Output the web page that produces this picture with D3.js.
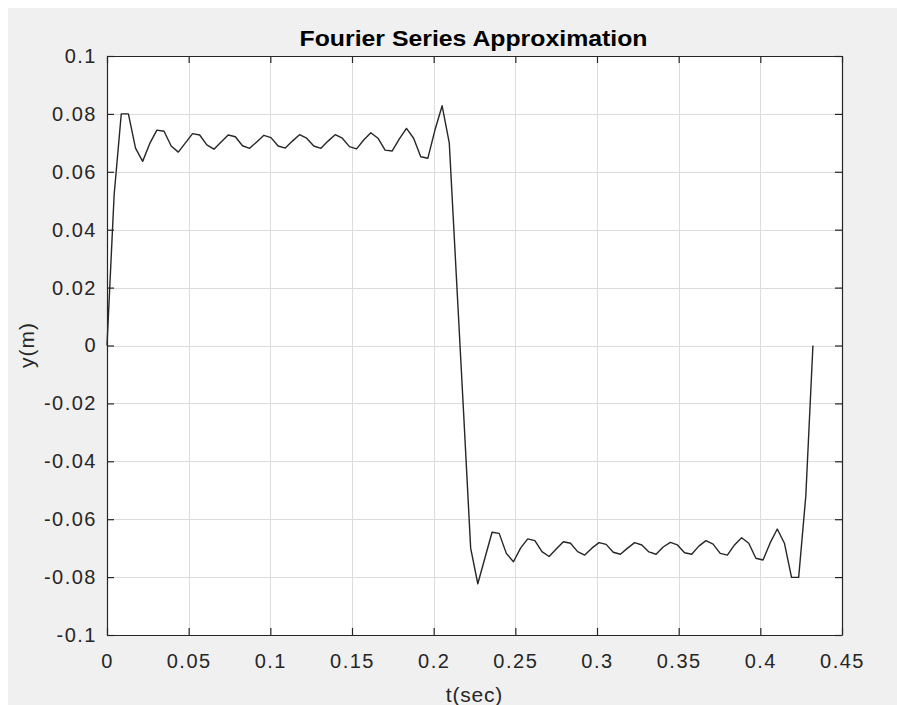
<!DOCTYPE html>
<html>
<head>
<meta charset="utf-8">
<script src="https://cdn.jsdelivr.net/npm/d3@7"></script>
<style>
  html, body { margin: 0; padding: 0; background: #ffffff; }
  svg { display: block; }
  text { font-family: "Liberation Sans", Arial, Helvetica, sans-serif; fill: #262626; }
</style>
</head>
<body>
<svg id="chart" width="897" height="705"></svg>
<script>
// ---- data ----
const chartTitle = "Fourier Series Approximation";
const xLabel = "t(sec)";
const yLabel = "y(m)";
const xTicks = [0, 0.05, 0.1, 0.15, 0.2, 0.25, 0.3, 0.35, 0.4, 0.45];
const xTickLabels = ["0", "0.05", "0.1", "0.15", "0.2", "0.25", "0.3", "0.35", "0.4", "0.45"];
const yTicks = [-0.1, -0.08, -0.06, -0.04, -0.02, 0, 0.02, 0.04, 0.06, 0.08, 0.1];
const yTickLabels = ["-0.1", "-0.08", "-0.06", "-0.04", "-0.02", "0", "0.02", "0.04", "0.06", "0.08", "0.1"];
const sampleStep = 0.0043657;   // time between samples (s)
const yValues = [
  0, 0.0520, 0.0800, 0.0800, 0.0682, 0.0636, 0.0698, 0.0744, 0.0740, 0.0689,
  0.0668, 0.0700, 0.0732, 0.0727, 0.0693, 0.0678, 0.0703, 0.0727, 0.0721, 0.0690,
  0.0681, 0.0703, 0.0726, 0.0718, 0.0689, 0.0682, 0.0706, 0.0728, 0.0716, 0.0689,
  0.0681, 0.0706, 0.0728, 0.0716, 0.0687, 0.0679, 0.0710, 0.0735, 0.0716, 0.0675,
  0.0672, 0.0714, 0.0750, 0.0716, 0.0652, 0.0647, 0.0745, 0.0828, 0.0700, 0.0236,
  -0.0228, -0.0700, -0.0823, -0.0734, -0.0645, -0.0649, -0.0718, -0.0747, -0.0700, -0.0668,
  -0.0674, -0.0712, -0.0729, -0.0703, -0.0678, -0.0683, -0.0712, -0.0724, -0.0700, -0.0681,
  -0.0687, -0.0714, -0.0721, -0.0700, -0.0681, -0.0689, -0.0713, -0.0721, -0.0696, -0.0680,
  -0.0689, -0.0716, -0.0721, -0.0693, -0.0674, -0.0686, -0.0718, -0.0724, -0.0689, -0.0664,
  -0.0683, -0.0735, -0.0741, -0.0682, -0.0634, -0.0683, -0.0801, -0.0801, -0.0520, 0
];
const timeValues = yValues.map((_, i) => i * sampleStep);

// ---- layout ----
const W = 897, H = 705;
const plot = { left: 107, right: 842, top: 56, bottom: 635 };
const svg = d3.select("#chart");

svg.append("rect").attr("x", 8).attr("y", 8).attr("width", W - 8).attr("height", H - 8).attr("fill", "#f0f0f0");
svg.append("rect").attr("x", plot.left).attr("y", plot.top)
  .attr("width", plot.right - plot.left).attr("height", plot.bottom - plot.top).attr("fill", "#ffffff");

const x = d3.scaleLinear().domain([0, 0.45]).range([plot.left, plot.right]);
const y = d3.scaleLinear().domain([-0.1, 0.1]).range([plot.bottom, plot.top]);

// grid
const grid = svg.append("g").attr("stroke", "#dcdcdc").attr("stroke-width", 1);
grid.selectAll("line.gx").data(xTicks.slice(1, -1)).join("line")
  .attr("x1", d => Math.round(x(d)) + 0.5).attr("x2", d => Math.round(x(d)) + 0.5)
  .attr("y1", plot.top).attr("y2", plot.bottom);
grid.selectAll("line.gy").data(yTicks.slice(1, -1)).join("line")
  .attr("y1", d => Math.round(y(d)) + 0.5).attr("y2", d => Math.round(y(d)) + 0.5)
  .attr("x1", plot.left).attr("x2", plot.right);

// data line
const line = d3.line().x((d, i) => x(timeValues[i])).y(d => y(d));
svg.append("path").datum(yValues)
  .attr("d", line).attr("fill", "none").attr("stroke", "#262626")
  .attr("stroke-width", 1.4).attr("stroke-linejoin", "round");

// axes (MATLAB-style box with inward ticks)
const tickLen = 7;
const fmtX = d => xTickLabels[xTicks.indexOf(d)];
const fmtY = d => yTickLabels[yTicks.indexOf(d)];

function styleAxis(g) {
  g.selectAll("path.domain").attr("stroke", "#262626").attr("stroke-width", 1.2);
  g.selectAll(".tick line").attr("stroke", "#262626").attr("stroke-width", 1.2);
  g.selectAll(".tick text").attr("fill", "#262626")
    .style("font-size", "20px").style("letter-spacing", "1.5px");
}

const xAxisB = svg.append("g").attr("transform", `translate(0,${plot.bottom})`)
  .call(d3.axisBottom(x).tickValues(xTicks).tickFormat(fmtX).tickSizeInner(-tickLen).tickSizeOuter(0).tickPadding(19));
styleAxis(xAxisB);
const xAxisT = svg.append("g").attr("transform", `translate(0,${plot.top})`)
  .call(d3.axisTop(x).tickValues(xTicks).tickFormat("").tickSizeInner(-tickLen).tickSizeOuter(0));
styleAxis(xAxisT);
const yAxisL = svg.append("g").attr("transform", `translate(${plot.left},0)`)
  .call(d3.axisLeft(y).tickValues(yTicks).tickFormat(fmtY).tickSizeInner(-tickLen).tickSizeOuter(0).tickPadding(10));
styleAxis(yAxisL);
const yAxisR = svg.append("g").attr("transform", `translate(${plot.right},0)`)
  .call(d3.axisRight(y).tickValues(yTicks).tickFormat("").tickSizeInner(-tickLen).tickSizeOuter(0));
styleAxis(yAxisR);

// text
svg.append("text").attr("x", (plot.left + plot.right) / 2 - 1).attr("y", 46)
  .attr("text-anchor", "middle").style("font-size", "22px").style("font-weight", "bold")
  .style("fill", "#000")
  .attr("textLength", 348).attr("lengthAdjust", "spacingAndGlyphs")
  .text(chartTitle);
svg.append("text").attr("x", (plot.left + plot.right) / 2).attr("y", 702)
  .attr("text-anchor", "middle").style("font-size", "21px").style("letter-spacing", "0.8px")
  .text(xLabel);
svg.append("text").attr("transform", `translate(34,345) rotate(-90)`)
  .attr("text-anchor", "middle").style("font-size", "21px").style("letter-spacing", "1px")
  .text(yLabel);
</script>
</body>
</html>
